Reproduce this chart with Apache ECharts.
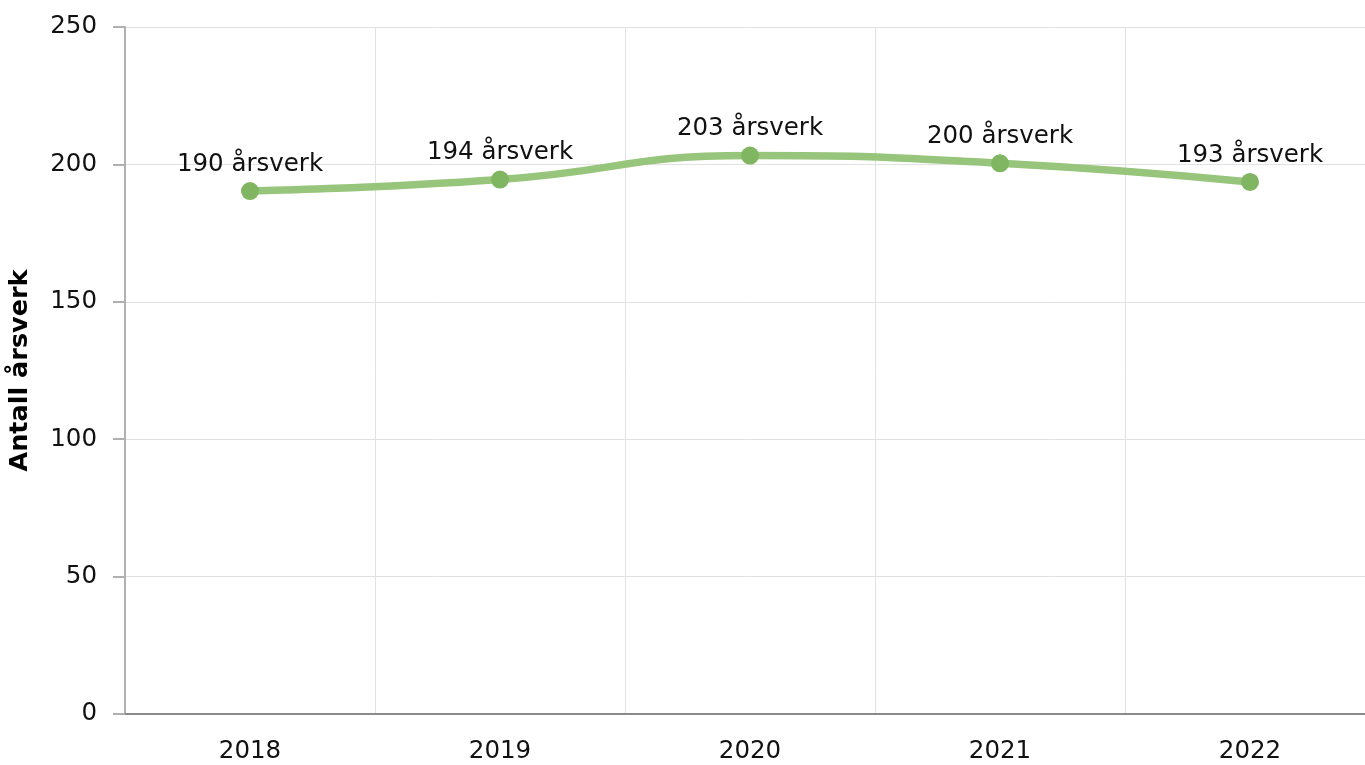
<!DOCTYPE html>
<html>
<head>
<meta charset="utf-8">
<title>Antall årsverk</title>
<script src="https://cdn.jsdelivr.net/npm/echarts@6/dist/echarts.min.js"></script>
<style>
  html, body { margin: 0; padding: 0; background: #ffffff; }
  #chart { width: 1365px; height: 765px; }
</style>
</head>
<body>
<div id="chart"></div>
<script>
// data
const years = ["2018", "2019", "2020", "2021", "2022"];
const aarsverk = [190.3, 194.5, 203.2, 200.4, 193.6];
const yTicks = { min: 0, max: 250, interval: 50 };

const font = "Verdana, 'DejaVu Sans', sans-serif";
const myChart = echarts.init(document.getElementById("chart"));

const option = {
  animation: false,
  grid: {
    left: 125,
    top: 27,
    bottom: 51,
    width: 1250,
    containLabel: false,
    outerBoundsMode: "none",
  },
  xAxis: {
    type: "category",
    data: years,
    boundaryGap: true,
    axisLine: { lineStyle: { color: "#8a8a8a", width: 2 } },
    axisTick: { alignWithLabel: true, length: 10, lineStyle: { color: "#aaaaaa", width: 2 } },
    axisLabel: { color: "#111111", fontSize: 24.5, fontFamily: font, margin: 25 },
    splitLine: { show: true, lineStyle: { color: "#e2e2e2", width: 1 } },
  },
  yAxis: {
    type: "value",
    min: yTicks.min,
    max: yTicks.max,
    interval: yTicks.interval,
    name: "Antall årsverk",
    nameLocation: "middle",
    nameGap: 92,
    nameTextStyle: { color: "#000000", fontSize: 25.5, fontWeight: "bold", fontFamily: font },
    axisLine: { show: true, lineStyle: { color: "#b0b0b0", width: 2 } },
    axisTick: { show: true, length: 12, lineStyle: { color: "#b0b0b0", width: 2 } },
    axisLabel: { color: "#111111", fontSize: 24.5, fontFamily: font, margin: 28 },
    splitLine: { lineStyle: { color: "#e2e2e2", width: 1 } },
  },
  series: [
    {
      type: "line",
      data: aarsverk,
      smooth: 0.5,
      symbol: "circle",
      symbolSize: 18,
      lineStyle: { color: "#98c57c", width: 7.5 },
      itemStyle: { color: "#80b662" },
      label: {
        show: true,
        position: "top",
        distance: 5,
        color: "#111111",
        fontSize: 24.5,
        fontFamily: font,
        formatter: (p) => Math.floor(p.value) + " årsverk",
      },
    },
  ],
};

myChart.setOption(option);
</script>
</body>
</html>
